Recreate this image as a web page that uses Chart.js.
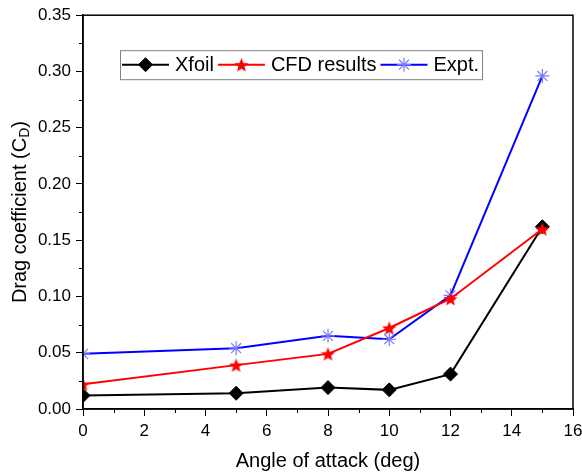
<!DOCTYPE html>
<html>
<head>
<meta charset="utf-8">
<script src="https://cdn.jsdelivr.net/npm/chart.js@4"></script>
<style>
  html, body { margin: 0; padding: 0; background: #fff; }
  #wrap { width: 582px; height: 476px; }
</style>
</head>
<body>
<div id="wrap"><canvas id="cd-chart" width="582" height="476"></canvas></div>
<script>
// angle of attack (deg) and drag coefficient per source
const angles = [0, 5, 8, 10, 12, 15];
const xfoil = [0.012, 0.014, 0.019, 0.017, 0.031, 0.162];
const cfd = [0.022, 0.039, 0.049, 0.072, 0.098, 0.160];
const expt = [0.049, 0.054, 0.065, 0.062, 0.101, 0.296];

const xTicks = [0, 2, 4, 6, 8, 10, 12, 14, 16];
const yTicks = [0, 0.05, 0.10, 0.15, 0.20, 0.25, 0.30, 0.35];
const xMinor = [1, 3, 5, 7, 9, 11, 13, 15];
const yMinor = [0.025, 0.075, 0.125, 0.175, 0.225, 0.275, 0.325];

const FONT = "'Liberation Sans', Arial, sans-serif";

// filled five point star used as marker for the CFD series
function makeStar(color, outer, inner) {
  const size = Math.ceil(outer * 2) + 2;
  const c = document.createElement("canvas");
  c.width = size; c.height = size;
  const g = c.getContext("2d");
  const cx = size / 2, cy = size / 2 + 0.8;
  g.beginPath();
  for (let i = 0; i < 10; i++) {
    const r = i % 2 === 0 ? outer : inner;
    const a = -Math.PI / 2 + i * Math.PI / 5;
    const px = cx + r * Math.cos(a), py = cy + r * Math.sin(a);
    if (i === 0) g.moveTo(px, py); else g.lineTo(px, py);
  }
  g.closePath();
  g.fillStyle = color;
  g.fill();
  return c;
}
const redStar = makeStar("#ff0000", 7.5, 3.2);

const pairs = ys => angles.map((a, i) => ({ x: a, y: ys[i] }));

// frame, minor ticks, axis titles and the boxed legend
const decorations = {
  id: "decorations",
  afterDraw(chart) {
    const ctx = chart.ctx;
    const area = chart.chartArea;
    const xs = chart.scales.x, ys = chart.scales.y;
    ctx.save();

    ctx.strokeStyle = "#000";
    ctx.lineWidth = 1;
    xMinor.forEach(v => {
      const px = Math.round(xs.getPixelForValue(v)) + 0.5;
      ctx.beginPath(); ctx.moveTo(px, area.bottom); ctx.lineTo(px, area.bottom + 4); ctx.stroke();
    });
    yMinor.forEach(v => {
      const py = Math.round(ys.getPixelForValue(v)) + 0.5;
      ctx.beginPath(); ctx.moveTo(area.left - 4, py); ctx.lineTo(area.left, py); ctx.stroke();
    });

    ctx.lineWidth = 1.5;
    ctx.strokeRect(area.left, area.top, area.right - area.left, area.bottom - area.top);

    // x title
    ctx.fillStyle = "#000";
    ctx.font = "20px " + FONT;
    ctx.textAlign = "center";
    ctx.textBaseline = "middle";
    ctx.fillText("Angle of attack (deg)", (area.left + area.right) / 2, 461);

    // y title with subscript D
    const main = "Drag coefficient (C", sub = "D", tail = ")";
    ctx.font = "20px " + FONT;
    const wMain = ctx.measureText(main).width;
    const wTail = ctx.measureText(tail).width;
    ctx.font = "14px " + FONT;
    const wSub = ctx.measureText(sub).width;
    const total = wMain + wSub + wTail;
    ctx.translate(20, (area.top + area.bottom) / 2);
    ctx.rotate(-Math.PI / 2);
    ctx.textAlign = "left";
    ctx.textBaseline = "middle";
    ctx.font = "20px " + FONT;
    ctx.fillText(main, -total / 2, 0);
    ctx.font = "14px " + FONT;
    ctx.fillText(sub, -total / 2 + wMain, 5);
    ctx.font = "20px " + FONT;
    ctx.fillText(tail, -total / 2 + wMain + wSub, 0);
    ctx.setTransform(1, 0, 0, 1, 0, 0);

    // legend
    const boxLeft = area.left + 37, boxTop = area.top + 35, boxH = 29;
    const midY = boxTop + boxH / 2;
    let x = boxLeft + 2;
    ctx.font = "20px " + FONT;
    ctx.textAlign = "left";
    ctx.textBaseline = "middle";
    chart.data.datasets.forEach(ds => {
      ctx.strokeStyle = ds.borderColor;
      ctx.lineWidth = 2;
      ctx.beginPath(); ctx.moveTo(x, midY); ctx.lineTo(x + 47, midY); ctx.stroke();
      ctx.fillStyle = ds.pointBackgroundColor;
      ctx.strokeStyle = ds.pointBorderColor;
      ctx.lineWidth = ds.pointBorderWidth;
      Chart.helpers.drawPoint(ctx, {
        pointStyle: ds.pointStyle, radius: ds.pointRadius, rotation: 0,
        borderWidth: ds.pointBorderWidth
      }, x + 23.5, midY);
      ctx.fillStyle = "#000";
      ctx.fillText(ds.label, x + 53, midY + 1);
      x = x + 53 + ctx.measureText(ds.label).width + 4;
    });
    ctx.strokeStyle = "#808080";
    ctx.lineWidth = 1;
    ctx.strokeRect(boxLeft + 0.5, boxTop + 0.5, x - 1 - boxLeft, boxH);

    ctx.restore();
  }
};

new Chart(document.getElementById("cd-chart"), {
  type: "line",
  data: {
    datasets: [
      {
        label: "Xfoil",
        data: pairs(xfoil),
        borderColor: "#000000",
        borderWidth: 2,
        pointStyle: "rectRot",
        pointRadius: 7,
        pointBackgroundColor: "#000000",
        pointBorderColor: "#000000",
        pointBorderWidth: 1,
        order: 2,
        clip: 0
      },
      {
        label: "CFD results",
        data: pairs(cfd),
        borderColor: "#ff0000",
        borderWidth: 2,
        pointStyle: redStar,
        pointRadius: 7,
        pointBackgroundColor: "#ff0000",
        pointBorderColor: "#ff0000",
        pointBorderWidth: 1,
        order: 0,
        clip: 0
      },
      {
        label: "Expt.",
        data: pairs(expt),
        borderColor: "#0000ff",
        borderWidth: 2,
        pointStyle: "star",
        pointRadius: 7,
        pointBackgroundColor: "#7a7aff",
        pointBorderColor: "#7a7aff",
        pointBorderWidth: 1.2,
        order: 1,
        clip: 0
      }
    ]
  },
  options: {
    responsive: false,
    animation: false,
    events: [],
    layout: { padding: { top: 13, right: 0, left: 0, bottom: 0 } },
    plugins: { legend: { display: false }, tooltip: { enabled: false } },
    elements: { line: { tension: 0 } },
    scales: {
      x: {
        type: "linear",
        min: 0,
        max: 16,
        afterBuildTicks: s => { s.ticks = xTicks.map(v => ({ value: v })); },
        afterFit: s => { s.height = 67; s.paddingRight = 9; },
        grid: { drawOnChartArea: false, tickLength: 7, tickColor: "#000", tickWidth: 1 },
        border: { color: "#000", width: 1.5 },
        ticks: { color: "#000", padding: 5, maxRotation: 0, font: { family: FONT, size: 17 } }
      },
      y: {
        type: "linear",
        min: 0,
        max: 0.35,
        afterBuildTicks: s => { s.ticks = yTicks.map(v => ({ value: v })); },
        afterFit: s => { s.width = 83; },
        grid: { drawOnChartArea: false, tickLength: 7, tickColor: "#000", tickWidth: 1 },
        border: { color: "#000", width: 1.5 },
        ticks: {
          color: "#000", padding: 5, font: { family: FONT, size: 17 },
          callback: v => v.toFixed(2)
        }
      }
    }
  },
  plugins: [decorations]
});
</script>
</body>
</html>
